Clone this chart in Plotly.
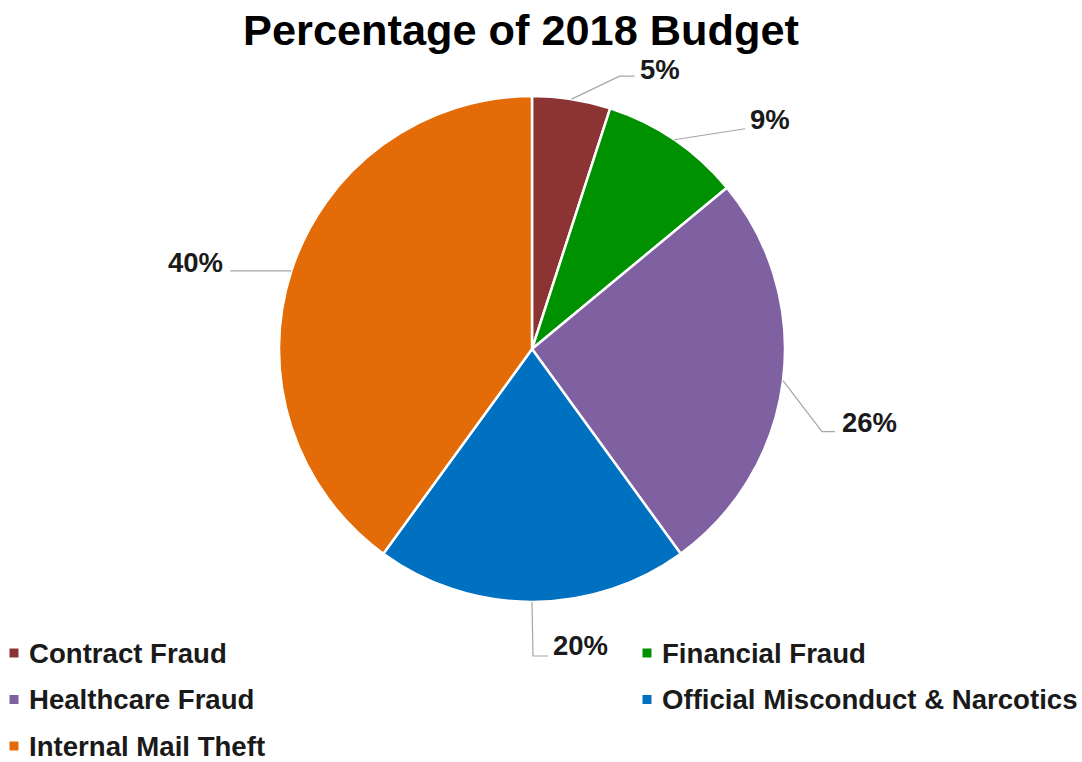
import math
import plotly.graph_objects as go

# Budget share by investigation area (percent)
categories = ["Contract Fraud", "Financial Fraud", "Healthcare Fraud",
              "Official Misconduct & Narcotics", "Internal Mail Theft"]
values = [5, 9, 26, 20, 40]
colors = ["#8C3434", "#009100", "#7F61A2", "#0070C0", "#E36C09"]

W, H = 1082, 762
CX, CY, R = 532, 349, 253  # pie centre and radius in pixels

FONT = "Liberation Sans, Arial, sans-serif"
TEXT_COLOR = "#1A1A1A"

# leader-line layout per label: elbow offset from slice edge, stub length,
# text gap, vertical shift of text relative to stub
leader_style = [
    dict(elbow=(48, -23), stub=15, gap=3, dy=-7),
    dict(elbow=(71, -11), stub=0, gap=3, dy=-9),
    dict(elbow=(39, 51), stub=13, gap=5, dy=-9),
    dict(elbow=(1, 54), stub=15, gap=3, dy=-11),
    dict(elbow=(-61, 0), stub=0, gap=5, dy=-8),
]

# key layout: two columns (marker centre x, text start x), three rows
key_columns = [(14, 27), (647, 660)]
key_rows = [653, 699.5, 746]
key_marker = 9


def px(x):
    return x / W


def py(y):
    return 1 - y / H


fig = go.Figure()

fig.add_trace(go.Pie(
    labels=categories,
    values=values,
    marker=dict(colors=colors, line=dict(color="white", width=2.5)),
    sort=False,
    direction="clockwise",
    rotation=0,
    textinfo="none",
    hoverinfo="label+percent",
    showlegend=False,
    domain=dict(x=[px(CX - R), px(CX + R)], y=[py(CY + R), py(CY - R)]),
))

annotations = []
shapes = []

# outside labels with leader lines, placed from each slice's mid-angle
total = sum(values)
cum = 0
for v, st in zip(values, leader_style):
    mid = (cum + v / 2) / total * 2 * math.pi
    cum += v
    ex = CX + R * math.sin(mid)
    ey = CY - R * math.cos(mid)
    bx = ex + st["elbow"][0]
    by = ey + st["elbow"][1]
    side = 1 if math.sin(mid) >= -1e-9 else -1
    tx = bx + side * st["stub"]
    shapes.append(dict(
        type="path", xref="paper", yref="paper",
        path=f"M {px(ex)} {py(ey)} L {px(bx)} {py(by)} L {px(tx)} {py(by)}",
        line=dict(color="#A6A6A6", width=1.2),
    ))
    annotations.append(dict(
        x=px(tx + side * st["gap"]), y=py(by + st["dy"]),
        xref="paper", yref="paper",
        text=f"{v}%", showarrow=False,
        xanchor="left" if side > 0 else "right", yanchor="middle",
        font=dict(family=FONT, size=27.5, color=TEXT_COLOR, weight="bold"),
    ))

# key below the pie, filled row by row across the two columns
for i, (name, col) in enumerate(zip(categories, colors)):
    mx, tx = key_columns[i % 2]
    ry = key_rows[i // 2]
    h = key_marker / 2
    shapes.append(dict(
        type="rect", xref="paper", yref="paper",
        x0=px(mx - h), x1=px(mx + h), y0=py(ry + h), y1=py(ry - h),
        fillcolor=col, line=dict(width=0),
    ))
    annotations.append(dict(
        x=px(tx), y=py(ry), xref="paper", yref="paper",
        text=name, showarrow=False, xanchor="left", yanchor="middle",
        font=dict(family=FONT, size=27.6, color=TEXT_COLOR, weight="bold"),
    ))

fig.update_layout(
    width=W, height=H,
    autosize=False,
    margin=dict(l=0, r=0, t=0, b=0),
    paper_bgcolor="white",
    plot_bgcolor="white",
    showlegend=False,
    title=dict(
        text="Percentage of 2018 Budget",
        x=521 / W, xanchor="center",
        y=1 - 30 / H, yanchor="middle", yref="container",
        font=dict(family=FONT, size=43.3, color="#000000", weight="bold"),
    ),
    annotations=annotations,
    shapes=shapes,
)

fig.write_html("out.html")
